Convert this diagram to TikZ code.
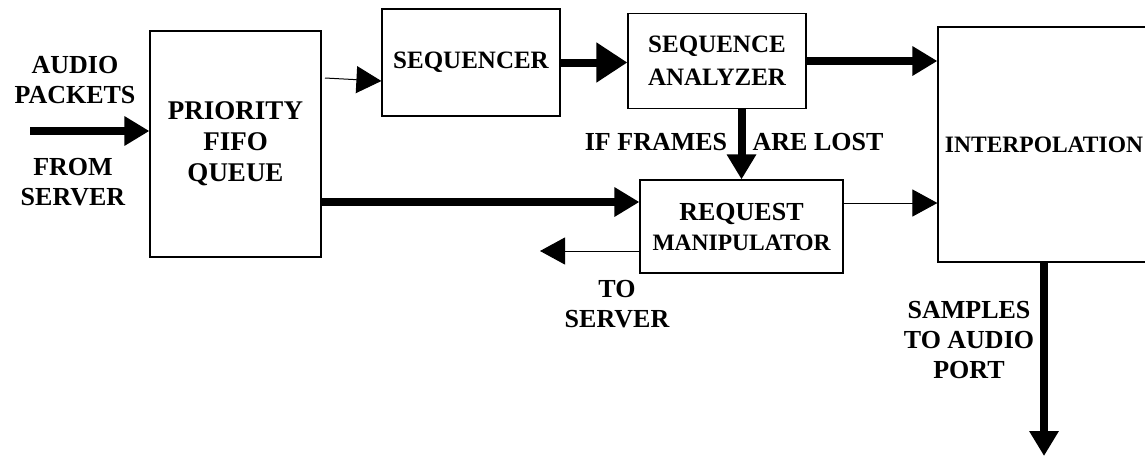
\documentclass[tikz,border=0pt]{standalone}
\usepackage{fontspec}
\setmainfont{Liberation Serif}
\usetikzlibrary{arrows.meta,calc}
\begin{document}
\begin{tikzpicture}[x=1pt,y=-1pt,
  every node/.style={font=\bfseries\fontsize{26}{30}\selectfont, align=center, inner sep=0pt},
  blk/.style={draw, line width=1.2pt},
  thickarrow/.style={line width=8pt, -{Triangle[length=25pt,width=28pt]}},
  bigarrow/.style={line width=8pt, -{Triangle[length=31pt,width=38pt]}},
  thinarrow/.style={line width=1pt, -{Triangle[length=25pt,width=27pt]}},
  smalltxt/.style={font=\bfseries\fontsize{23.5}{30}\selectfont},
  medtxt/.style={font=\bfseries\fontsize{25}{33}\selectfont},
  bigtxt/.style={font=\bfseries\fontsize{27}{31}\selectfont}]
\useasboundingbox (0,0) rectangle (1145,459);
\clip (0,0) rectangle (1145,459);
% boxes
\node[blk, bigtxt, minimum width=171pt, minimum height=226pt] (pfq) at (235.5,144) {PRIORITY\\FIFO\\QUEUE};
\node[blk, medtxt, minimum width=178pt, minimum height=107pt] (seq) at (471,62.5) {SEQUENCER};
\node[blk, medtxt, minimum width=178pt, minimum height=95pt] (sa) at (717,61) {SEQUENCE\\ANALYZER};
\node[blk, minimum width=203pt, minimum height=93pt] (rm) at (741.5,226.5) {REQUEST\\{\fontsize{23.5}{30}\selectfont MANIPULATOR}};
\node[blk, minimum width=212pt, minimum height=235pt, smalltxt] (interp) at (1044,144.5) {INTERPOLATION};
% labels
\node (lap) at (75,80) {AUDIO\\PACKETS};
\node (lfs) at (73,182) {FROM\\SERVER};
\node (lif) at (656,142) {IF FRAMES};
\node (lal) at (818,142) {ARE LOST};
\node (lts) at (617,304) {TO\\SERVER};
\node (lsa) at (969,340) {SAMPLES\\TO AUDIO\\PORT};
% free ends and anchor points
\coordinate (in) at (30,131);
\coordinate (pfqout) at (325,78);
\coordinate (toserv) at (540,251);
\coordinate (out) at (1044,456);
\coordinate (seqin) at ($(seq.west)+(0,18.5)$);
\coordinate (rmin) at ($(rm.west)+(0,-24.5)$);
\coordinate (rmout) at ($(rm.east)+(0,-23.5)$);
\coordinate (rmback) at ($(rm.west)+(0,24.5)$);
% connectors
\draw[thickarrow] (in) -- (pfq.west |- in);
\draw[thinarrow] (pfqout) -- (seqin);
\draw[bigarrow] (seq.east) -- (seq.east -| sa.west);
\draw[thickarrow] (sa.east) -- (sa.east -| interp.west);
\draw[thickarrow] (sa.south -| rm.north) -- (rm.north);
\draw[thickarrow] (pfq.east |- rmin) -- (rmin);
\draw[thinarrow] (rmout) -- (rmout -| interp.west);
\draw[thinarrow] (rmback) -- (toserv);
\draw[thickarrow] (interp.south) -- (out);
\end{tikzpicture}
\end{document}
